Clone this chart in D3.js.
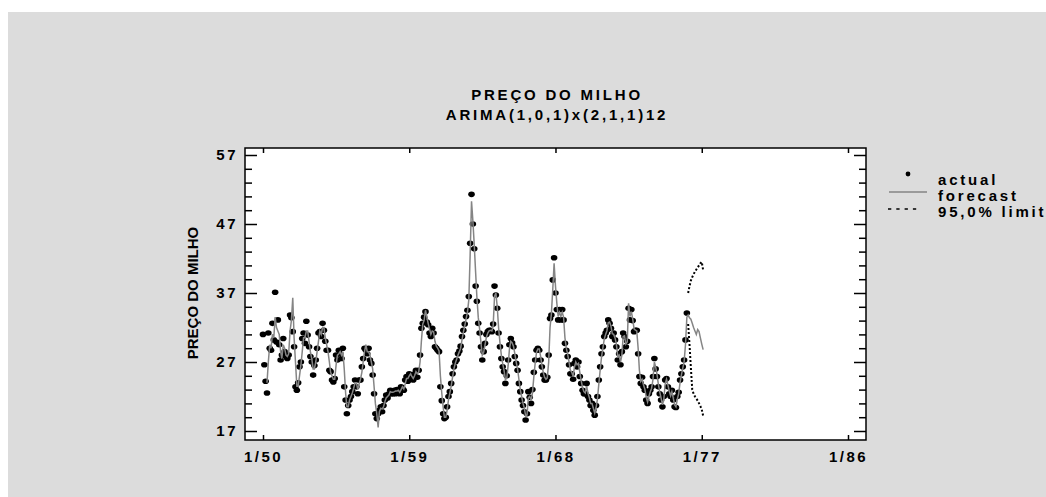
<!DOCTYPE html>
<html>
<head>
<meta charset="utf-8">
<script src="https://cdn.jsdelivr.net/npm/d3@7"></script>
<style>
  body { margin: 0; background: #fff; }
  svg text { font-family: "Liberation Sans", Arial, sans-serif; font-weight: bold; fill: #000; }
</style>
</head>
<body>
<div id="chart"></div>
<script>
// monthly corn price, one array per year (from 1/50)
const actual1950 = [31, 26.6, 24.2, 22.5, 31.2, 29, 28.7, 32.6, 30.2, 37.1, 29.9, 33.1];
const actual1951 = [29.5, 27.3, 28, 30.4, 28.5, 27.8, 27.5, 28, 33.8, 33.4, 31.4, 29.2];
const actual1952 = [23.4, 22.9, 24, 26.3, 27, 30.4, 31.2, 29.7, 32.9, 30.9, 29.2, 27.8];
const actual1953 = [27, 25.1, 26.5, 27.3, 29, 31.2, 31.4, 30.7, 32.6, 31.6, 30, 28.7];
const actual1954 = [28.7, 25.8, 25.6, 24.4, 24.1, 24.6, 28, 27.3, 28.7, 28.2, 27.5, 29];
const actual1955 = [23.4, 21.5, 19.5, 20.7, 21.5, 22, 22.7, 23.4, 24.4, 23.4, 22.4, 24.4];
const actual1956 = [24.4, 26.3, 27.5, 29, 28.7, 28.2, 29, 27.3, 26.8, 25.1, 22.4, 19.5];
const actual1957 = [18.8, 19.5, 20, 20.5, 19.8, 20.7, 21.5, 22.2, 21.8, 22.4, 22.9, 22.4];
const actual1958 = [22.4, 22.9, 22.4, 23, 22.7, 22.4, 23.4, 23.2, 22.9, 24.4, 24.9, 24.2];
const actual1959 = [25.3, 25.1, 24.6, 24.4, 25.3, 25.8, 24.8, 25.8, 28, 31.9, 32.6, 33.5];
const actual1960 = [34.3, 32.8, 32.4, 31.2, 30.7, 31.9, 31.2, 29.2, 29, 28.7, 28.5, 23.4];
const actual1961 = [21.4, 19.5, 18.8, 19, 20.5, 22, 22.7, 23.9, 25.3, 26.3, 27, 27.3];
const actual1962 = [28.2, 28.6, 29.3, 30.7, 31.6, 32.5, 33.6, 34.5, 36.5, 44.2, 51.3, 47];
const actual1963 = [43.4, 38, 35.8, 32.6, 31.2, 29.2, 27.3, 28.5, 29.7, 31, 31.4, 31.6];
const actual1964 = [31.6, 31.4, 32.5, 38, 36.7, 34.8, 31.2, 29.2, 27.5, 26.3, 25.6, 23.9];
const actual1965 = [25, 27.3, 29.5, 30.4, 29.8, 29.2, 27.8, 26.8, 25.8, 23.9, 22.7, 21.5];
const actual1966 = [20.7, 19.8, 18.6, 19.5, 22.7, 21.9, 21, 23, 25.5, 27.3, 28.7, 29];
const actual1967 = [28.7, 27.3, 26.3, 25.1, 24.4, 24.4, 24.8, 28, 33.3, 33.8, 38.9, 42.1];
const actual1968 = [37, 34.6, 33.1, 34.6, 33.1, 34.6, 33.1, 29.7, 28.7, 27.8, 26.6, 25.3];
const actual1969 = [25.3, 24.5, 26.8, 27.3, 26.3, 27, 24.9, 23.9, 22.9, 22.4, 22.4, 23.9];
const actual1970 = [22, 21.5, 20.7, 21, 20, 19.3, 20.7, 22, 24.4, 26.3, 28.2, 29.2];
const actual1971 = [30.7, 31.2, 31.6, 33.1, 32.6, 31.9, 30.7, 31.2, 30.2, 29.2, 27.3, 28.2];
const actual1972 = [26.6, 28.5, 31.2, 30.7, 29.2, 30, 34.8, 33.1, 34.6, 33, 31.4, 31.6];
const actual1973 = [31.6, 28.2, 24.9, 23.9, 24.8, 23.4, 22.9, 21.5, 21, 22.4, 22.9, 23.4];
const actual1974 = [24.9, 27.5, 26, 24.9, 23.4, 22.4, 21.5, 20.5, 22, 24.4, 24.6, 23.4];
const actual1975 = [22.4, 22, 22.9, 21.5, 20.5, 20.4, 22, 22.6, 24.4, 25.3, 26.3, 27.3];
const actual1976 = [30.2, 34.1];

// one-step-ahead forecasts, same months
const fit1950 = [null, null, null, 24, 27, 29.5, 29, 31, 30.5, 33.5, 32, 31.5];
const fit1951 = [31, 28.5, 27.5, 29.5, 29, 28, 27.8, 28.2, 31.5, 33, 36.3, 30.5];
const fit1952 = [27, 23.5, 23.5, 25, 26.5, 28.5, 30.5, 30.5, 31.5, 31.5, 30, 28.5];
const fit1953 = [27.5, 26, 26, 27, 28.5, 30, 31.5, 31, 32, 32, 30.5, 29.5];
const fit1954 = [28.5, 27, 25.5, 25, 24.5, 24.5, 26.5, 28, 28.2, 28.5, 28, 28.5];
const fit1955 = [26, 22.5, 20.5, 20.5, 21.5, 22, 22.5, 23.2, 24, 24, 23, 23.8];
const fit1956 = [24.5, 25.5, 27, 28.5, 29.5, 28.5, 28.5, 28, 27, 26, 23.5, 21];
const fit1957 = [19.5, 17.5, 19.8, 20.3, 20.2, 20.5, 21.2, 21.8, 22, 22.2, 22.7, 22.6];
const fit1958 = [22.6, 22.7, 22.8, 22.8, 22.9, 22.6, 23, 23.4, 23.1, 23.8, 24.6, 24.6];
const fit1959 = [25, 25.3, 24.9, 24.6, 25, 25.6, 25.3, 25.5, 27, 30, 32.5, 33];
const fit1960 = [34.5, 33.5, 32.6, 31.8, 31, 31.5, 31.4, 30, 29.3, 29, 28.6, 25];
const fit1961 = [22.5, 20.5, 19, 19, 20, 21.5, 22.5, 23.5, 24.8, 26, 26.8, 27.4];
const fit1962 = [28, 28.5, 29, 30.2, 31.3, 32.2, 33.2, 34.2, 36, 42.5, 50.3, 47.5];
const fit1963 = [44, 40, 36.5, 33.5, 31.8, 29.8, 28, 28.4, 29.5, 30.6, 31.2, 31.5];
const fit1964 = [31.6, 31.5, 32.2, 36.5, 37, 35, 32, 29.8, 28, 26.8, 25.8, 24.5];
const fit1965 = [24.6, 26.5, 28.8, 30, 29.8, 29.3, 28.2, 27, 26, 24.5, 23, 22];
const fit1966 = [21, 20.3, 19.2, 19.3, 21.8, 22, 21.4, 22.5, 24.8, 26.8, 28.4, 28.9];
const fit1967 = [28.9, 27.8, 26.6, 25.5, 24.8, 24.5, 24.7, 27, 32, 34, 37.5, 41.3];
const fit1968 = [38, 35.5, 33.6, 34.2, 33.6, 34.2, 33.5, 30.5, 29, 28.1, 27, 25.8];
const fit1969 = [25.5, 24.9, 26.2, 27, 26.6, 26.8, 25.5, 24.3, 23.3, 22.7, 22.5, 23.5];
const fit1970 = [22.5, 21.8, 21, 21, 20.3, 19.6, 20.4, 21.6, 23.8, 25.8, 27.7, 29];
const fit1971 = [30.3, 31, 31.5, 32.7, 32.8, 32.2, 31.1, 31, 30.5, 29.6, 27.8, 28];
const fit1972 = [27, 28, 30.7, 30.8, 29.6, 29.9, 35.5, 33.6, 34.3, 33.3, 31.8, 31.6];
const fit1973 = [31.5, 29, 25.8, 24.2, 24.5, 23.7, 23.1, 21.9, 21.2, 22, 22.7, 23.2];
const fit1974 = [24.5, 27, 26.3, 25.2, 23.8, 22.7, 21.8, 20.8, 21.6, 23.8, 24.5, 23.7];
const fit1975 = [22.8, 22.1, 22.7, 21.8, 20.8, 20.5, 21.6, 22.4, 24, 25.1, 26.1, 27];
const fit1976 = [29.5, 33.5];

// forecasts beyond the data, with 95% limits
const forecastAhead = [33.8, 33.4, 33.2, 32.6, 32, 31.5, 31, 31.7, 31.4, 30.5, 29.6, 28.8];
const upperLimit = [37, 38, 38.8, 39.3, 39.7, 40.1, 40.4, 40.7, 41, 41.3, 41.5, 40.3];
const lowerLimit = [32.5, 29.5, 26.2, 23, 22.4, 22, 21.7, 21.4, 21, 20.6, 20.1, 19.2];

const yTicks = [17, 27, 37, 47, 57];
const xTickYears = [1950, 1959, 1968, 1977, 1986];
const xTickLabels = ["1/50", "1/59", "1/68", "1/77", "1/86"];
const legendLabels = ["actual", "forecast", "95,0% limit"];

const actual = [].concat(actual1950, actual1951, actual1952, actual1953, actual1954, actual1955,
  actual1956, actual1957, actual1958, actual1959, actual1960, actual1961, actual1962, actual1963,
  actual1964, actual1965, actual1966, actual1967, actual1968, actual1969, actual1970, actual1971,
  actual1972, actual1973, actual1974, actual1975, actual1976);
const fitted = [].concat(fit1950, fit1951, fit1952, fit1953, fit1954, fit1955, fit1956, fit1957,
  fit1958, fit1959, fit1960, fit1961, fit1962, fit1963, fit1964, fit1965, fit1966, fit1967,
  fit1968, fit1969, fit1970, fit1971, fit1972, fit1973, fit1974, fit1975, fit1976);

const month = (i) => new Date(Date.UTC(1950, i, 1));

const width = 1046, height = 497;
const frame = { left: 245, right: 866, top: 148, bottom: 440 };

const svg = d3.select("#chart").append("svg")
  .attr("width", width)
  .attr("height", height);

svg.append("rect").attr("x", 8).attr("y", 12)
  .attr("width", width - 8).attr("height", height - 12)
  .attr("fill", "#dcdcdc");

svg.append("rect")
  .attr("x", frame.left).attr("y", frame.top)
  .attr("width", frame.right - frame.left).attr("height", frame.bottom - frame.top)
  .attr("fill", "#fff");

const x = d3.scaleUtc()
  .domain([month(0), month(36 * 12)])
  .range([263, 848]);

const y = d3.scaleLinear()
  .domain([17, 57])
  .range([431, 155]);

// titles
svg.append("text").attr("x", 557).attr("y", 100).attr("text-anchor", "middle")
  .style("font-size", "15px").style("letter-spacing", "2.8px").text("PREÇO DO MILHO");
svg.append("text").attr("x", 557).attr("y", 120).attr("text-anchor", "middle")
  .style("font-size", "15px").style("letter-spacing", "2.8px").text("ARIMA(1,0,1)x(2,1,1)12");

svg.append("text")
  .attr("transform", "translate(198,293) rotate(-90)")
  .attr("text-anchor", "middle")
  .style("font-size", "15px")
  .text("PREÇO DO MILHO");

// axes
const tickStyle = (g) => {
  g.select(".domain").remove();
  g.selectAll("line").attr("stroke", "#000").attr("stroke-width", 1.5);
  g.selectAll("text").style("font-size", "15px").style("letter-spacing", "2.5px");
};
const minorTicks = d3.range(19, 57, 2).filter(v => !yTicks.includes(v));

svg.append("g").attr("transform", `translate(${frame.left},0)`)
  .call(d3.axisLeft(y).tickValues(yTicks).tickSize(-12).tickPadding(7).tickFormat(d3.format("d")))
  .call(tickStyle);
svg.append("g").attr("transform", `translate(${frame.left},0)`)
  .call(d3.axisLeft(y).tickValues(minorTicks).tickSize(-7).tickFormat(""))
  .call(tickStyle);
svg.append("g").attr("transform", `translate(${frame.right},0)`)
  .call(d3.axisRight(y).tickValues(yTicks).tickSize(-12).tickFormat(""))
  .call(tickStyle);
svg.append("g").attr("transform", `translate(${frame.right},0)`)
  .call(d3.axisRight(y).tickValues(minorTicks).tickSize(-7).tickFormat(""))
  .call(tickStyle);

const xTickDates = xTickYears.map(yr => month((yr - 1950) * 12));
svg.append("g").attr("transform", `translate(0,${frame.bottom})`)
  .call(d3.axisBottom(x).tickValues(xTickDates).tickSize(-5).tickPadding(11)
    .tickFormat((d, i) => xTickLabels[i]))
  .call(tickStyle);
svg.append("g").attr("transform", `translate(0,${frame.top})`)
  .call(d3.axisTop(x).tickValues(xTickDates).tickSize(-5).tickFormat(""))
  .call(tickStyle);

// frame
svg.append("rect")
  .attr("x", frame.left).attr("y", frame.top)
  .attr("width", frame.right - frame.left).attr("height", frame.bottom - frame.top)
  .attr("fill", "none").attr("stroke", "#000").attr("stroke-width", 1.5);

// actual points
svg.append("g").selectAll("ellipse")
  .data(actual)
  .join("ellipse")
  .attr("cx", (d, i) => x(month(i)))
  .attr("cy", d => y(d))
  .attr("rx", 3.3).attr("ry", 2.8)
  .attr("fill", "#000");

// forecast line (fitted + ahead)
const last = actual.length - 1;
const fitPts = fitted.map((v, i) => [i, v]).filter(p => p[1] != null)
  .concat(forecastAhead.map((v, i) => [last + 1 + i, v]));
const line = d3.line().x(p => x(month(p[0]))).y(p => y(p[1]));
svg.append("path").datum(fitPts)
  .attr("d", line).attr("fill", "none")
  .attr("stroke", "#858585").attr("stroke-width", 1.5);

// limits
[upperLimit, lowerLimit].forEach(arr => {
  svg.append("path").datum(arr.map((v, i) => [last + 1 + i, v]))
    .attr("d", line).attr("fill", "none")
    .attr("stroke", "#000").attr("stroke-width", 2)
    .attr("stroke-dasharray", "2,2");
});

// legend
const lg = svg.append("g");
lg.append("circle").attr("cx", 908).attr("cy", 174).attr("r", 2.4).attr("fill", "#000");
lg.append("line").attr("x1", 889).attr("x2", 927).attr("y1", 192).attr("y2", 192)
  .attr("stroke", "#858585").attr("stroke-width", 1.5);
lg.append("line").attr("x1", 888).attr("x2", 918).attr("y1", 209).attr("y2", 209)
  .attr("stroke", "#000").attr("stroke-width", 1.5).attr("stroke-dasharray", "3.3,5");
lg.selectAll("text").data(legendLabels).join("text")
  .attr("x", 938).attr("y", (d, i) => 185 + i * 16)
  .style("font-size", "15px").style("letter-spacing", "2.8px")
  .text(d => d);
</script>
</body>
</html>
